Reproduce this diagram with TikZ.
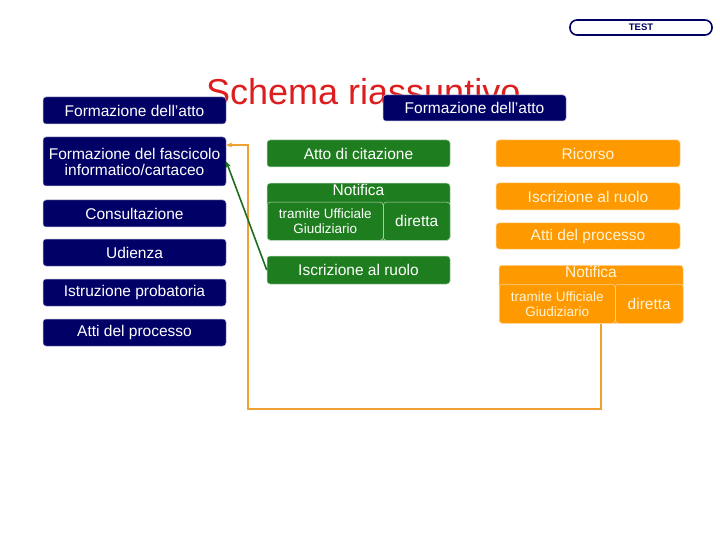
\documentclass[tikz,border=0pt]{standalone}
\usepackage{fontspec}
\setmainfont{Liberation Sans}
\usetikzlibrary{arrows.meta,calc}
\definecolor{navyc}{RGB}{0,0,102}
\definecolor{greenc}{RGB}{30,125,30}
\definecolor{orangec}{RGB}{255,153,0}
\definecolor{orangeline}{RGB}{238,160,50}
\definecolor{greenline}{RGB}{30,110,30}
\definecolor{titlered}{RGB}{221,30,30}
\definecolor{lighttext}{RGB}{255,244,214}
\tikzset{
  basebox/.style={rounded corners=3pt, inner sep=0pt, line width=0.5pt, align=center,
    font=\fontsize{15.5}{17}\selectfont},
  navybox/.style={basebox, fill=navyc, draw=white!70!navyc, text=white},
  greenbox/.style={basebox, fill=greenc, draw=white!70!greenc, text=white},
  orangebox/.style={basebox, fill=orangec, draw=white!60!orangec, text=lighttext},
  subtext/.style={font=\fontsize{13.5}{15}\selectfont, align=center, inner sep=0pt},
  conn/.style={-{Stealth[length=6pt,width=5pt]}}
}
\begin{document}
\begin{tikzpicture}[x=1pt,y=-1pt]
\useasboundingbox (0,0) rectangle (720,540);
\fill[white] (0,0) rectangle (720,540);

% TEST badge
\node[draw=navyc, line width=1.6pt, rounded corners=7pt, fill=white, minimum width=142pt, minimum height=15pt,
  inner sep=0pt, text=navyc, font=\fontsize{9.5}{10}\selectfont\bfseries] (test) at (641,27.5) {TEST};

% title
\node[anchor=base west, inner sep=0pt, text=titlered, font=\fontsize{36}{40}\selectfont] (title) at (206,105) {Schema riassuntivo};

% left column
\node[navybox, minimum width=183pt, minimum height=27pt] (fatto) at (134.5,110.5) {Formazione dell’atto};
\node[navybox, minimum width=183pt, minimum height=49pt] (fasc) at (134.5,161.5) {Formazione del fascicolo\\[-1pt]informatico/cartaceo};
\node[navybox, minimum width=183pt, minimum height=27pt] (cons) at (134.5,213.5) {Consultazione};
\node[navybox, minimum width=183pt, minimum height=27pt] (udi) at (134.5,252.5) {Udienza};
\node[navybox, minimum width=183pt, minimum height=27pt] (istr) at (134.5,292.5) {Istruzione probatoria};
\node[navybox, minimum width=183pt, minimum height=27pt] (atti) at (134.5,332.5) {Atti del processo};

% top right navy
\node[navybox, minimum width=183pt, minimum height=26pt] (fatto2) at (474.5,108) {Formazione dell’atto};

% green column
\node[greenbox, minimum width=183pt, minimum height=27pt] (gcit) at (358.5,153.5) {Atto di citazione};
\node[greenbox, minimum width=183pt, minimum height=57pt, anchor=north] (gnot) at (358.5,183) {};
\node[anchor=north, inner sep=0pt, text=white, font=\fontsize{15.5}{17}\selectfont] (gnott) at (358.5,184) {Notifica};
\node[basebox, draw=white!70!greenc, minimum width=116pt, minimum height=38pt, anchor=north west] (gnotL) at (267,202) {};
\node[subtext, text=white] (gnotLt) at (gnotL.center) {tramite Ufficiale\\Giudiziario};
\node[basebox, draw=white!70!greenc, text=white, minimum width=67pt, minimum height=38pt, anchor=north west] (gnotR) at (383,202) {diretta};
\node[greenbox, minimum width=183pt, minimum height=28pt] (giscr) at (358.5,270) {Iscrizione al ruolo};

% orange column
\node[orangebox, minimum width=184pt, minimum height=27pt] (oric) at (588,153.5) {Ricorso};
\node[orangebox, minimum width=184pt, minimum height=27pt] (oiscr) at (588,196.5) {Iscrizione al ruolo};
\node[orangebox, minimum width=184pt, minimum height=26pt] (oatti) at (588,236) {Atti del processo};
\node[orangebox, minimum width=184pt, minimum height=58pt, anchor=north] (onot) at (591,265) {};
\node[anchor=north, inner sep=0pt, text=lighttext, font=\fontsize{15.5}{17}\selectfont] (onott) at (591,266) {Notifica};
\node[basebox, draw=white!60!orangec, minimum width=116pt, minimum height=39pt, anchor=north west] (onotL) at (499,284) {};
\node[subtext, text=lighttext] (onotLt) at (onotL.center) {tramite Ufficiale\\Giudiziario};
\node[basebox, draw=white!60!orangec, text=lighttext, minimum width=68pt, minimum height=39pt, anchor=north west] (onotR) at (615,284) {diretta};

% connectors
\coordinate (ob1) at (601,409);
\coordinate (ob2) at (248,409);
\coordinate (ob3) at (248,145);
\draw[conn, orangeline, line width=2pt] (onotL.south -| ob1) -- (ob1) -- (ob2) -- (ob3) -- (ob3 -| fasc.east);
\draw[conn, greenline, line width=1.6pt] (giscr.west) -- (fasc.east);
\end{tikzpicture}
\end{document}
